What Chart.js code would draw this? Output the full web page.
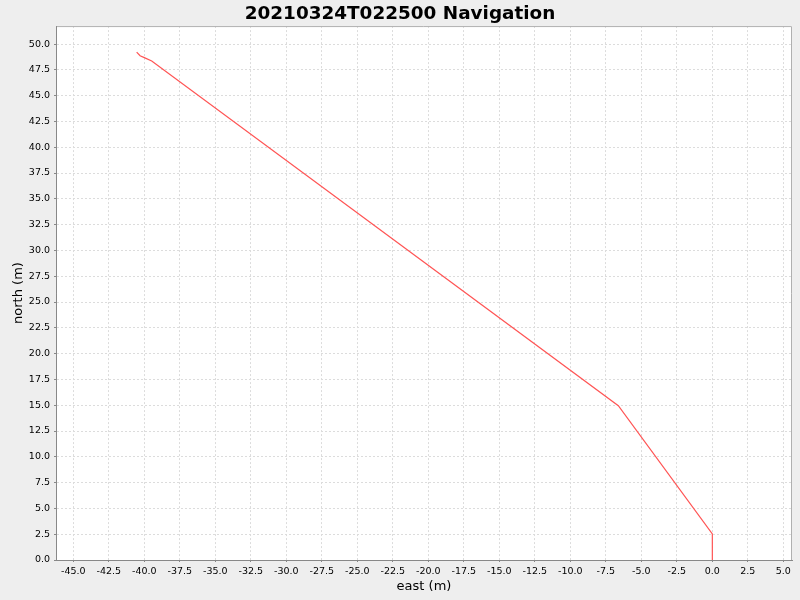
<!DOCTYPE html>
<html>
<head>
<meta charset="utf-8">
<script src="https://cdn.jsdelivr.net/npm/chart.js@4/dist/chart.umd.min.js"></script>
<style>
    body { margin: 0; background: #eeeeee; }
    #wrap { width: 800px; height: 600px; }
</style>
</head>
<body>
<div id="wrap"><canvas id="navChart" width="800" height="600"></canvas></div>
<script>
// track points (metres)
const eastValues  = [0.0, 0.0, -6.62, -39.48, -40.0, -40.30, -40.54];
const northValues = [0.0, 2.52, 14.95, 48.35, 48.68, 48.87, 49.22];

const xTicks = [-45, -42.5, -40, -37.5, -35, -32.5, -30, -27.5, -25, -22.5, -20, -17.5, -15, -12.5, -10, -7.5, -5, -2.5, 0, 2.5, 5];
const yTicks = [0, 2.5, 5, 7.5, 10, 12.5, 15, 17.5, 20, 22.5, 25, 27.5, 30, 32.5, 35, 37.5, 40, 42.5, 45, 47.5, 50];

const points = eastValues.map((e, i) => ({ x: e, y: northValues[i] }));

// white plot area, outline and solid axis lines
const plotBackground = {
    id: "plotBackground",
    beforeDraw(chart) {
        const { ctx, chartArea: a } = chart;
        ctx.save();
        ctx.fillStyle = "#ffffff";
        ctx.fillRect(a.left, a.top, a.right - a.left, a.bottom - a.top);
        ctx.restore();
    },
    afterDraw(chart) {
        const { ctx, chartArea: a } = chart;
        ctx.save();
        ctx.lineWidth = 1;
        ctx.setLineDash([]);
        ctx.strokeStyle = "#b0b0b0";
        ctx.beginPath();
        ctx.moveTo(a.left, a.top + 0.5);
        ctx.lineTo(a.right - 0.5, a.top + 0.5);
        ctx.lineTo(a.right - 0.5, a.bottom);
        ctx.stroke();
        ctx.strokeStyle = "#888888";
        ctx.beginPath();
        ctx.moveTo(a.left + 0.5, a.top);
        ctx.lineTo(a.left + 0.5, a.bottom + 0.5);
        ctx.lineTo(a.right, a.bottom + 0.5);
        ctx.stroke();
        ctx.restore();
    }
};

const tickFont = { family: "DejaVu Sans", size: 9.5 };

new Chart(document.getElementById("navChart"), {
    type: "scatter",
    data: {
        datasets: [{
            data: points,
            showLine: true,
            borderColor: "#ff5555",
            borderWidth: 1.2,
            pointRadius: 0,
            tension: 0
        }]
    },
    options: {
        responsive: false,
        animation: false,
        layout: { padding: { left: 8, right: 8, top: 0, bottom: 0 } },
        plugins: {
            legend: { display: false },
            tooltip: { enabled: false },
            title: {
                display: true,
                text: "20210324T022500 Navigation",
                color: "#000000",
                font: { family: "DejaVu Sans", size: 18.4, weight: "bold" },
                padding: { top: 3, bottom: 1 }
            }
        },
        scales: {
            x: {
                type: "linear",
                min: -46.22,
                max: 5.61,
                afterBuildTicks: axis => { axis.ticks = xTicks.map(v => ({ value: v })); },
                afterFit: axis => { axis.height = 40; },
                ticks: {
                    color: "#000000",
                    font: tickFont,
                    padding: 4,
                    maxRotation: 0,
                    autoSkip: false,
                    callback: v => v.toFixed(1)
                },
                grid: {
                    color: "#dcdcdc",
                    tickLength: 2,
                    tickColor: "#888888",
                    tickBorderDash: []
                },
                border: { color: "#888888", dash: [2, 2] },
                title: {
                    display: true,
                    text: "east (m)",
                    color: "#000000",
                    font: { family: "DejaVu Sans", size: 13 },
                    padding: { top: 0, bottom: 6 }
                }
            },
            y: {
                type: "linear",
                min: 0,
                max: 51.74,
                afterBuildTicks: axis => { axis.ticks = yTicks.map(v => ({ value: v })); },
                afterFit: axis => { axis.width = 48; },
                ticks: {
                    color: "#000000",
                    font: tickFont,
                    padding: 4,
                    autoSkip: false,
                    callback: v => v.toFixed(1)
                },
                grid: {
                    color: "#dcdcdc",
                    tickLength: 2,
                    tickColor: "#888888",
                    tickBorderDash: []
                },
                border: { color: "#888888", dash: [2, 2] },
                title: {
                    display: true,
                    text: "north (m)",
                    color: "#000000",
                    font: { family: "DejaVu Sans", size: 13 },
                    padding: { top: 3, bottom: 0 }
                }
            }
        }
    },
    plugins: [plotBackground]
});
</script>
</body>
</html>
